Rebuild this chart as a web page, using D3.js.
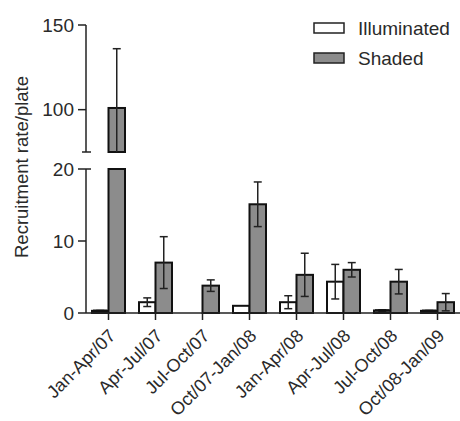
<!DOCTYPE html>
<html><head><meta charset="utf-8">
<script src="https://cdn.jsdelivr.net/npm/d3@7"></script>
<style>body{margin:0;background:#fff}svg{display:block}text{font-family:"Liberation Sans",Arial,sans-serif;fill:#2a2a2a}</style>
</head><body>
<script>
const categories = ["Jan-Apr/07","Apr-Jul/07","Jul-Oct/07","Oct/07-Jan/08","Jan-Apr/08","Apr-Jul/08","Jul-Oct/08","Oct/08-Jan/09"];
const illuminated = [0.3, 1.5, 0, 1.0, 1.5, 4.35, 0.35, 0.3];
const illuminatedErr = [0.05, 0.6, 0, 0, 0.9, 2.4, 0.1, 0.05];
const shaded = [101, 7.0, 3.8, 15.1, 5.3, 6.0, 4.35, 1.5];
const shadedErr = [35, 3.6, 0.8, 3.1, 3.0, 1.0, 1.7, 1.2];
const lowTicks = [0, 10, 20];
const highTicks = [100, 150];
const seriesNames = ["Illuminated", "Shaded"];

const W = 460, H = 421;
const svg = d3.select("body").append("svg").attr("width", W).attr("height", H);
const x = d3.scaleBand().domain(categories).range([85, 461]);
const yLow = d3.scaleLinear().domain([0, 20]).range([313, 169]);
const yHigh = d3.scaleLinear().domain([75, 150]).range([152, 25]);
const bw = 16.5;
const fills = ["#ffffff", "#8c8c8c"];
const axisX = 86;

const segs = [yLow, yHigh];
function drawBar(cx, v, e, s) {
  segs.forEach(sc => {
    const [d0, d1] = sc.domain();
    if (v <= d0) return;
    const top = Math.min(v, d1);
    const x0 = s === 0 ? cx - bw : cx;
    if (v > 0) {
      svg.append("rect").attr("x", x0).attr("y", sc(top)).attr("width", bw)
        .attr("height", sc(d0) - sc(top)).attr("fill", fills[s])
        .attr("stroke", "#111").attr("stroke-width", 2);
    }
  });
  if (e > 0) {
    const ex = s === 0 ? cx - bw / 2 : cx + bw / 2;
    segs.forEach(sc => {
      const [d0, d1] = sc.domain();
      const lo = Math.max(v - e, d0), hi = Math.min(v + e, d1);
      if (hi <= lo) return;
      svg.append("line").attr("x1", ex).attr("x2", ex).attr("y1", sc(lo)).attr("y2", sc(hi))
        .attr("stroke", "#222").attr("stroke-width", 1.5);
      [v - e, v + e].forEach(c => {
        if (c >= d0 && c <= d1 && c > 0) {
          svg.append("line").attr("x1", ex - 4).attr("x2", ex + 4).attr("y1", sc(c)).attr("y2", sc(c))
            .attr("stroke", "#222").attr("stroke-width", 1.5);
        }
      });
    });
  }
  if (v > 0 && v < 0.6) {
    const x0 = s === 0 ? cx - bw : cx;
    svg.append("line").attr("x1", x0 + 1).attr("x2", x0 + bw - 1).attr("y1", yLow(v)).attr("y2", yLow(v))
      .attr("stroke", "#111").attr("stroke-width", 2.5);
  }
}

categories.forEach((c, i) => {
  const cx = x(c) + x.bandwidth() / 2;
  drawBar(cx, illuminated[i], illuminatedErr[i], 0);
  drawBar(cx, shaded[i], shadedErr[i], 1);
});

// axes
const ax = svg.append("g").attr("stroke", "#222").attr("stroke-width", 1.5);
ax.append("line").attr("x1", axisX).attr("x2", axisX).attr("y1", yLow(0)).attr("y2", yLow(20));
ax.append("line").attr("x1", axisX).attr("x2", axisX).attr("y1", yHigh(75)).attr("y2", yHigh(150));
ax.append("line").attr("x1", axisX).attr("x2", 460).attr("y1", yLow(0)).attr("y2", yLow(0));
lowTicks.forEach(t => ax.append("line").attr("x1", axisX - 8).attr("x2", t === 20 ? axisX + 5 : axisX).attr("y1", yLow(t)).attr("y2", yLow(t)));
highTicks.forEach(t => ax.append("line").attr("x1", axisX - 8).attr("x2", axisX).attr("y1", yHigh(t)).attr("y2", yHigh(t)));
ax.append("line").attr("x1", axisX - 4).attr("x2", axisX + 5).attr("y1", yHigh(75)).attr("y2", yHigh(75));
categories.forEach(c => {
  const cx = x(c) + x.bandwidth() / 2;
  ax.append("line").attr("x1", cx).attr("x2", cx).attr("y1", yLow(0)).attr("y2", yLow(0) + 7);
});

const fs = 19;
lowTicks.forEach(t => svg.append("text").attr("x", axisX - 12).attr("y", yLow(t)).attr("dy", "0.35em")
  .attr("text-anchor", "end").attr("font-size", fs).text(t));
highTicks.forEach(t => svg.append("text").attr("x", axisX - 12).attr("y", yHigh(t)).attr("dy", "0.35em")
  .attr("text-anchor", "end").attr("font-size", fs).text(t));

categories.forEach(c => {
  const cx = x(c) + x.bandwidth() / 2;
  svg.append("text").attr("transform", `translate(${cx + 8},${yLow(0) + 24}) rotate(-45)`)
    .attr("text-anchor", "end").attr("font-size", 18).text(c);
});

svg.append("text").attr("transform", `translate(22,167) rotate(-90)`).attr("dy", "0.35em")
  .attr("text-anchor", "middle").attr("font-size", 18.5).text("Recruitment rate/plate");

// legend
seriesNames.forEach((n, i) => {
  const y0 = 23 + i * 30;
  svg.append("rect").attr("x", 314).attr("y", y0).attr("width", 30).attr("height", 10)
    .attr("fill", fills[i]).attr("stroke", "#222").attr("stroke-width", 1.5);
  svg.append("text").attr("x", 358).attr("y", y0 + 5).attr("dy", "0.35em").attr("font-size", fs).text(n);
});
</script>
</body></html>
